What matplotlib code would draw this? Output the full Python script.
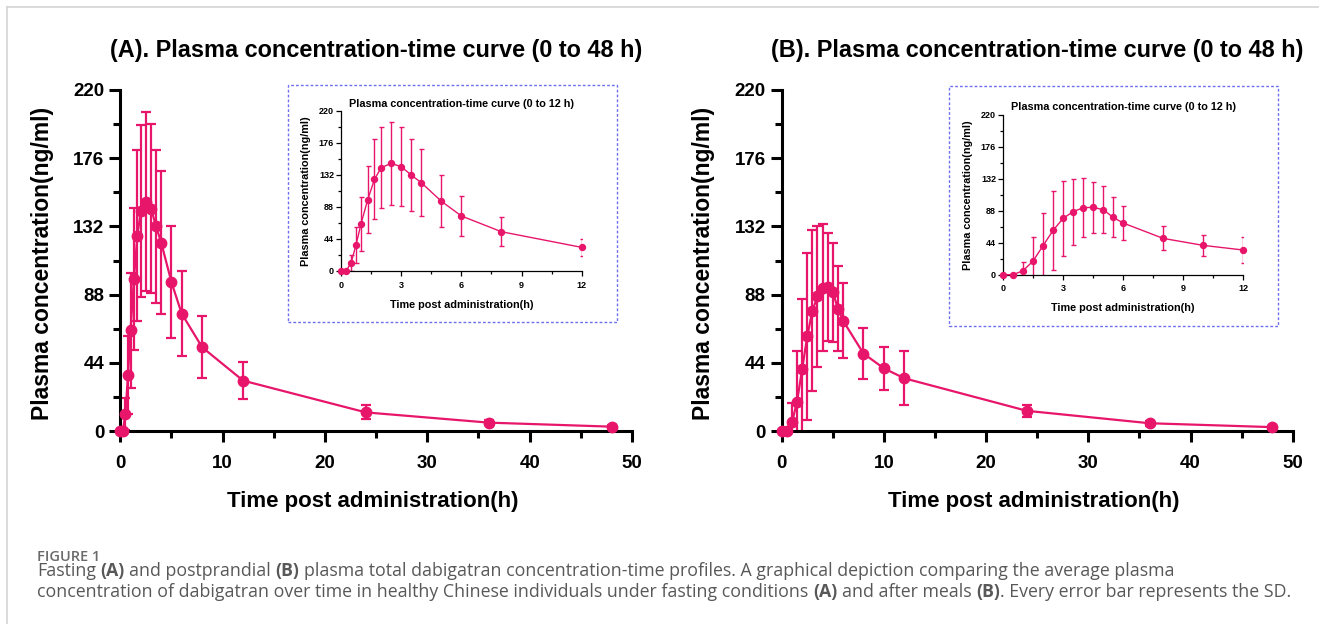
import matplotlib
matplotlib.use('Agg')
import matplotlib.pyplot as plt
from matplotlib.ticker import MultipleLocator
from matplotlib.patches import Rectangle
from matplotlib.lines import Line2D
from matplotlib.text import Annotation

# fasting (A): mean and SD, ng/ml
time_a = [0, 0.25, 0.5, 0.75, 1, 1.33, 1.67, 2, 2.5, 3, 3.5, 4, 5, 6, 8, 12, 24, 36, 48]
conc_a = [0, 0, 11, 36, 65, 98, 126, 142, 148, 143.5, 132, 121.5, 96, 75.7, 54, 32.5, 12, 5.4, 2.8]
sd_a = [0, 0, 10.5, 25, 37, 46, 55, 55.5, 57.5, 54.5, 49.5, 46, 36, 27.5, 20, 12, 4.5, 1.5, 1]

# postprandial (B)
time_b = [0, 0.5, 1, 1.5, 2, 2.5, 3, 3.5, 4, 4.5, 5, 5.5, 6, 8, 10, 12, 24, 36, 48]
conc_b = [0, 0, 5.5, 18.8, 40, 61, 77.6, 86.8, 92.3, 92.8, 89.6, 79, 71.2, 50, 40.4, 34, 13, 5, 2.5]
sd_b = [0, 0, 12.5, 33, 45, 54, 52, 45.5, 41, 35, 32, 27.5, 24, 16.5, 14, 17.5, 4, 1.5, 1]

titles = ['(A). Plasma concentration-time curve (0 to 48 h)',
          '(B). Plasma concentration-time curve (0 to 48 h)']
inset_title = 'Plasma concentration-time curve (0 to 12 h)'
ylab = 'Plasma concentration(ng/ml)'
xlab = 'Time post administration(h)'

PINK = '#E8166B'
W, H = 1319, 624

plt.rcParams['font.family'] = 'Liberation Sans'
plt.rcParams['font.weight'] = 'bold'

fig = plt.figure(figsize=(W / 100, H / 100), dpi=100)


def fx(x):
    return x / W


def fy(y):
    return 1 - y / H


def style_axes(ax, big):
    for s in ['top', 'right']:
        ax.spines[s].set_visible(False)
    lw = 2.2 if big else 0.9
    for s in ['left', 'bottom']:
        ax.spines[s].set_linewidth(lw)
    ax.set_ylim(0, 220)
    ax.yaxis.set_major_locator(MultipleLocator(44))
    ax.yaxis.set_minor_locator(MultipleLocator(22))
    if big:
        ax.set_xlim(0, 50)
        ax.xaxis.set_major_locator(MultipleLocator(10))
        ax.xaxis.set_minor_locator(MultipleLocator(5))
        ax.tick_params(which='major', length=8, width=2.2, labelsize=13.5)
        ax.tick_params(which='minor', length=5, width=2.2)
        ax.tick_params(axis='x', which='major', pad=9)
        ax.tick_params(axis='y', which='major', pad=3.5)
    else:
        ax.set_xlim(0, 12)
        ax.xaxis.set_major_locator(MultipleLocator(3))
        ax.xaxis.set_minor_locator(MultipleLocator(1.5))
        ax.tick_params(which='major', length=3.5, width=0.9, labelsize=6.5)
        ax.tick_params(which='minor', length=2, width=0.9)
        ax.tick_params(axis='x', which='major', pad=3.5)
        ax.tick_params(axis='y', which='major', pad=1.5)


def draw(ax, t, c, sd, big):
    if big:
        ms, lw, cap = 7.5, 1.6, 3.6
    else:
        ms, lw, cap = 4.3, 1.0, 1.8
    ax.errorbar(t, c, yerr=sd, fmt='none', ecolor=PINK, color=PINK, elinewidth=lw,
                capsize=cap, capthick=lw)
    ax.plot(t, c, '-o', color=PINK, ms=ms, lw=lw, clip_on=False, zorder=3)


panels = [
    # main x0, x50, inset x0, x12, inset y0, y220, box l, t, r, b
    (time_a, conc_a, sd_a, 120.3, 632, 341, 581.7, 271, 111, (287.7, 84.7, 616.7, 322.3)),
    (time_b, conc_b, sd_b, 781.7, 1292.7, 1003, 1243.3, 274.7, 115, (949, 86, 1278.3, 325.7)),
]

for i, (t, c, sd, x0, x1, ix0, ix1, iy0, iy1, box) in enumerate(panels):
    ax = fig.add_axes([fx(x0), fy(431), (x1 - x0) / W, (431 - 90) / H])
    style_axes(ax, True)
    draw(ax, t, c, sd, True)
    fig.text(fx((x0 + x1) / 2), fy(57.3), titles[i], ha='center', va='baseline', fontsize=16.9)
    fig.text(fx(x0 - 78), fy(263), ylab, rotation=90, ha='center', va='center', fontsize=16.5)
    fig.text(fx((x0 + x1) / 2 - 3), fy(506.7), xlab, ha='center', va='baseline', fontsize=16)

    # dotted frame around the zoomed view
    l, tp, r, b = box
    fig.add_artist(Rectangle((fx(l), fy(b)), (r - l) / W, (b - tp) / H, transform=fig.transFigure,
                             fill=False, ec='#6E6EEE', lw=1, ls=(0, (2, 1.5))))

    ins = fig.add_axes([fx(ix0), fy(iy0), (ix1 - ix0) / W, (iy0 - iy1) / H])
    style_axes(ins, False)
    n = [k for k in range(len(t)) if t[k] <= 12]
    draw(ins, [t[k] for k in n], [c[k] for k in n], [sd[k] for k in n], False)
    fig.text(fx((ix0 + ix1) / 2), fy(iy1 - 4.3 - i), inset_title, ha='center', va='baseline', fontsize=7.8)
    fig.text(fx(ix0 - 35), fy((iy0 + iy1) / 2), ylab, rotation=90, ha='center', va='center', fontsize=7.8)
    fig.text(fx((ix0 + ix1) / 2), fy(iy0 + 36.7), xlab, ha='center', va='baseline', fontsize=7.8)

# page frame
fig.add_artist(Line2D([fx(6.5), fx(6.5)], [fy(7.3), 0], color='#d4d4d4', lw=1.2))
fig.add_artist(Line2D([fx(6.5), 1], [fy(7.3), fy(7.3)], color='#d4d4d4', lw=1.2))

# caption
cap_kw = dict(family='Open Sans', fontsize=12.8, color='#585858')
fig.text(fx(37), fy(561), 'FIGURE 1', family='Open Sans', fontsize=10.5, color='#6a6a6a',
         fontweight='semibold', va='baseline')

line1 = [('Fasting', 'normal', 0), ('(A)', 'bold', 1), ('and postprandial', 'normal', 1), ('(B)', 'bold', 1),
         ('plasma total dabigatran concentration-time profiles. A graphical depiction comparing the average plasma', 'normal', 1)]
line2 = [('concentration of dabigatran over time in healthy Chinese individuals under fasting conditions', 'normal', 0),
         ('(A)', 'bold', 1), ('and after meals', 'normal', 1), ('(B)', 'bold', 1),
         ('. Every error bar represents the SD.', 'normal', 0)]

for parts, base in [(line1, 576), (line2, 597.3)]:
    prev = fig.text(fx(37), fy(base), parts[0][0], fontweight=parts[0][1], va='baseline', **cap_kw)
    for s, w, gap in parts[1:]:
        a = Annotation(s, xy=(1, 0), xycoords=prev, xytext=(gap * 3.3, 0), textcoords='offset points',
                       va='bottom', ha='left', fontweight=w, **cap_kw)
        fig.add_artist(a)
        prev = a

fig.savefig('out.png', dpi=100)
